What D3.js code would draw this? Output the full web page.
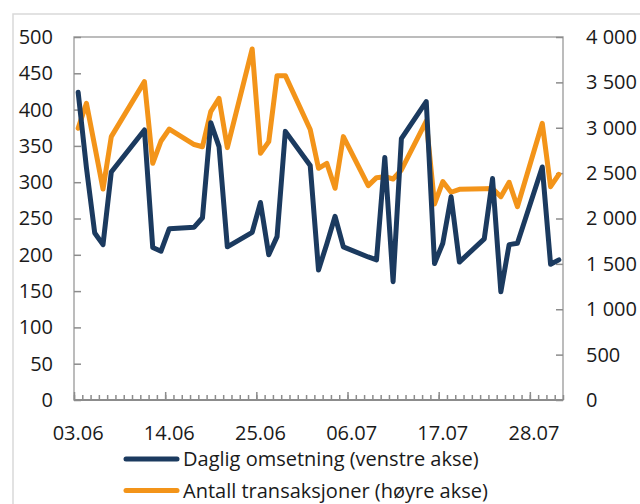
<!DOCTYPE html>
<html>
<head>
<meta charset="utf-8">
<script src="https://cdn.jsdelivr.net/npm/d3@7"></script>
<style>
  body { margin: 0; background: #fff; }
  text { font-family: "Open Sans", "Noto Sans", sans-serif; fill: #1a1a1a; }
</style>
</head>
<body>
<div id="chart"></div>
<script>

/* DATA */

const dates = [
  "2024-06-03", "2024-06-04", "2024-06-05", "2024-06-06", "2024-06-07",
  "2024-06-11", "2024-06-12", "2024-06-13", "2024-06-14",
  "2024-06-17", "2024-06-18", "2024-06-19", "2024-06-20", "2024-06-21",
  "2024-06-24", "2024-06-25", "2024-06-26", "2024-06-27", "2024-06-28",
  "2024-07-01", "2024-07-02", "2024-07-03", "2024-07-04", "2024-07-05",
  "2024-07-08", "2024-07-09", "2024-07-10", "2024-07-11", "2024-07-12",
  "2024-07-15", "2024-07-16", "2024-07-17", "2024-07-18", "2024-07-19",
  "2024-07-22", "2024-07-23", "2024-07-24", "2024-07-25", "2024-07-26",
  "2024-07-29", "2024-07-30", "2024-07-31"
];

// Daglig omsetning (venstre akse)
const omsetning = [
  424, 320, 230, 214, 314,
  372, 210, 205, 236,
  238, 251, 382, 349, 211,
  231, 272, 200, 225, 370,
  323, 179, 215, 253, 211,
  197, 193, 334, 163, 360,
  411, 188, 216, 280, 190,
  222, 305, 149, 214, 216,
  321, 187, 193
];

// Antall transaksjoner (høyre akse)
const transaksjoner = [
  2994, 3269, 2800, 2325, 2902,
  3508, 2608, 2854, 2986,
  2815, 2791, 3177, 3324, 2781,
  3868, 2718, 2847, 3574, 3574,
  2980, 2553, 2608, 2333, 2902,
  2362, 2450, 2461, 2435, 2535,
  3074, 2160, 2406, 2289, 2322,
  2328, 2330, 2240, 2399, 2130,
  3049, 2351, 2487
];

const leftTicks = [0, 50, 100, 150, 200, 250, 300, 350, 400, 450, 500];
const rightTicks = [0, 500, 1000, 1500, 2000, 2500, 3000, 3500, 4000];
const xLabels = ["2024-06-03", "2024-06-14", "2024-06-25", "2024-07-06", "2024-07-17", "2024-07-28"];

const seriesNames = ["Daglig omsetning (venstre akse)", "Antall transaksjoner (høyre akse)"];
const colors = ["#1b3a5f", "#f39419"];

/* CONSTANTS */

const width = 640;
const height = 504;
const margin = { top: 37, left: 74, right: 77, bottom: 104 };
const fontSize = "20px";

const parse = d3.timeParse("%Y-%m-%d");
const fmt = d3.timeFormat("%d.%m");
const mid = d => d3.timeHour.offset(d, 12);

const rows = dates.map((d, i) => ({
  date: parse(d),
  oms: omsetning[i],
  tx: transaksjoner[i]
}));

// SCALES =================================================
const start = parse(dates[0]);
const end = d3.timeDay.offset(parse(dates[dates.length - 1]), 1);

const xScale = d3.scaleTime()
  .domain([start, end])
  .range([margin.left, width - margin.right]);

const yLeft = d3.scaleLinear()
  .domain([0, 500])
  .range([height - margin.bottom, margin.top]);

const yRight = d3.scaleLinear()
  .domain([0, 4000])
  .range([height - margin.bottom, margin.top]);

// SVG ====================================================
const svg = d3.select("#chart")
  .append("svg")
  .attr("width", width)
  .attr("height", height);

// outer frame
svg.append("rect")
  .attr("x", 13)
  .attr("y", 14)
  .attr("width", 700)
  .attr("height", 600)
  .attr("fill", "#fff")
  .attr("stroke", "#d9d9d9")
  .attr("stroke-width", 1.5);

// plot border
svg.append("rect")
  .attr("x", margin.left)
  .attr("y", margin.top)
  .attr("width", width - margin.right - margin.left)
  .attr("height", height - margin.bottom - margin.top)
  .attr("fill", "none")
  .attr("stroke", "#a6a6a6")
  .attr("stroke-width", 1.5);

// AXES ---------------------------------------------------
const axisStyle = g => {
  g.select(".domain").remove();
  g.selectAll(".tick line").attr("stroke", "#8c8c8c").attr("stroke-width", 1.5);
  g.selectAll(".tick text").style("font-size", fontSize).attr("fill", "#1a1a1a");
};

svg.append("g")
  .attr("transform", `translate(${margin.left}, 0)`)
  .call(d3.axisLeft(yLeft).tickValues(leftTicks).tickSize(-7).tickPadding(21))
  .call(axisStyle);

svg.append("g")
  .attr("transform", `translate(${width - margin.right}, 0)`)
  .call(d3.axisRight(yRight).tickValues(rightTicks).tickSize(-7).tickPadding(23)
    .tickFormat(d => d3.format(",")(d).replace(",", " ")))
  .call(axisStyle);

// x minor ticks (each day) and major ticks (every 11 days)
svg.append("g")
  .attr("transform", `translate(0, ${height - margin.bottom})`)
  .call(d3.axisBottom(xScale)
    .tickValues(d3.timeDay.range(start, d3.timeDay.offset(end, 1)))
    .tickSize(-5).tickFormat(""))
  .call(axisStyle);

svg.append("g")
  .attr("transform", `translate(0, ${height - margin.bottom})`)
  .call(d3.axisBottom(xScale)
    .tickValues(d3.timeDay.range(start, end, 11))
    .tickSize(-8).tickFormat(""))
  .call(axisStyle);

// bottom axis line
svg.append("line")
  .attr("x1", margin.left)
  .attr("x2", width - margin.right)
  .attr("y1", height - margin.bottom)
  .attr("y2", height - margin.bottom)
  .attr("stroke", "#8c8c8c")
  .attr("stroke-width", 2);

// x labels
svg.selectAll(".x-label")
  .data(xLabels)
  .join("text")
  .attr("class", "x-label")
  .attr("x", d => xScale(mid(parse(d))))
  .attr("y", 440)
  .attr("text-anchor", "middle")
  .style("font-size", fontSize)
  .text(d => fmt(parse(d)));

// LINES ==================================================
const lineLeft = d3.line()
  .x(d => xScale(mid(d.date)))
  .y(d => yLeft(d.oms));

const lineRight = d3.line()
  .x(d => xScale(mid(d.date)))
  .y(d => yRight(d.tx));

svg.append("path")
  .datum(rows)
  .attr("d", lineRight)
  .attr("fill", "none")
  .attr("stroke", colors[1])
  .attr("stroke-width", 5)
  .attr("stroke-linejoin", "round")
  .attr("stroke-linecap", "round");

svg.append("path")
  .datum(rows)
  .attr("d", lineLeft)
  .attr("fill", "none")
  .attr("stroke", colors[0])
  .attr("stroke-width", 5)
  .attr("stroke-linejoin", "round")
  .attr("stroke-linecap", "round");

// LEGEND =================================================
const legend = svg.selectAll(".legend")
  .data(seriesNames)
  .join("g")
  .attr("class", "legend")
  .attr("transform", (_, i) => `translate(0, ${459 + i * 31.5})`);

legend.append("line")
  .attr("x1", 126)
  .attr("x2", 177)
  .attr("stroke", (_, i) => colors[i])
  .attr("stroke-width", 5)
  .attr("stroke-linecap", "round");

legend.append("text")
  .attr("x", 183)
  .attr("y", 7)
  .style("font-size", fontSize)
  .text(d => d);

</script>
</body>
</html>
